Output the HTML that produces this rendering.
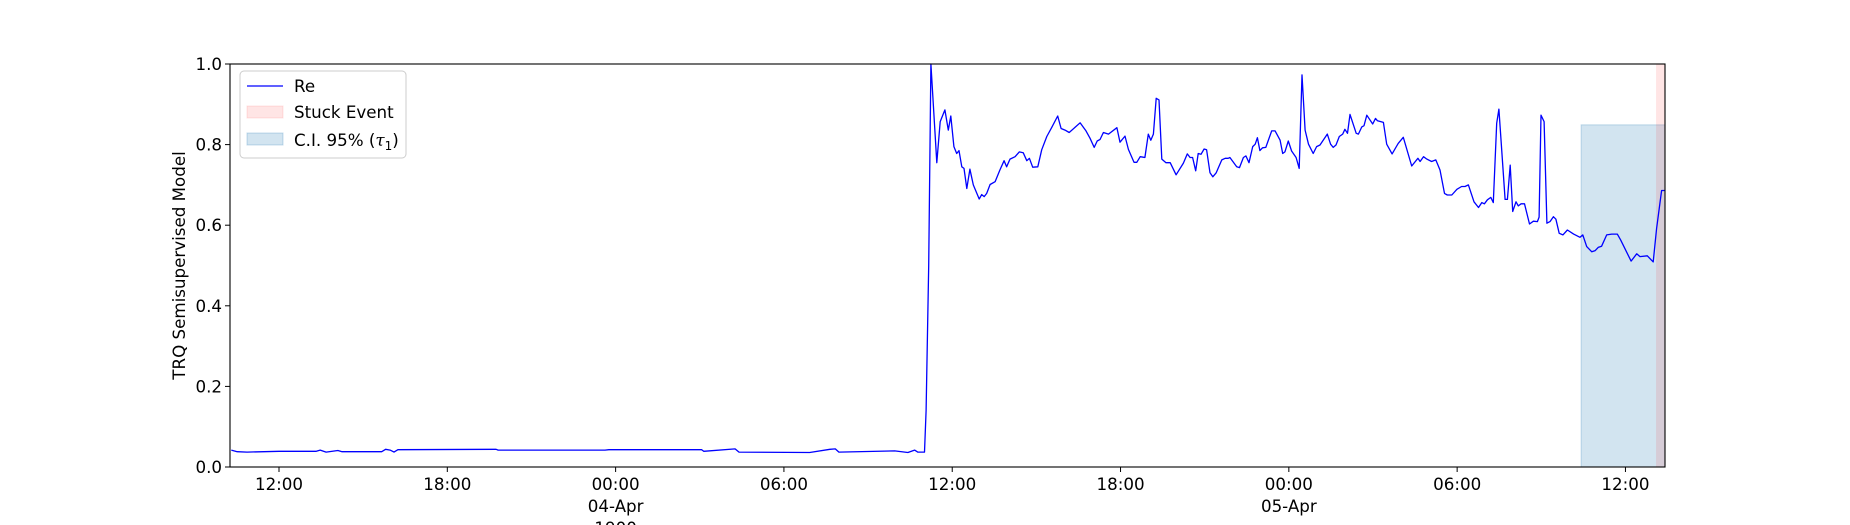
<!DOCTYPE html>
<html><head><meta charset="utf-8">
<style>
html,body{margin:0;padding:0;background:#fff;}
svg{display:block;font-family:"DejaVu Sans","Liberation Sans",sans-serif;}
</style></head>
<body>
<svg id="chart" width="1850" height="525" viewBox="0 0 1850 525" xmlns="http://www.w3.org/2000/svg"></svg>
<script>
// time in hours since 03-Apr 00:00
const times = [10.30,10.51,10.86,12.00,13.33,13.47,13.68,14.10,14.25,15.66,15.80,15.96,16.10,16.24,19.74,19.81,23.62,23.76,27.07,27.14,28.26,28.40,30.92,31.64,31.83,31.96,33.95,34.42,34.66,34.77,34.93,35.01,35.07,35.16,35.24,35.45,35.57,35.74,35.86,35.95,36.06,36.16,36.24,36.34,36.42,36.52,36.63,36.75,36.96,37.05,37.14,37.23,37.35,37.53,37.70,37.85,37.94,38.06,38.24,38.39,38.53,38.66,38.75,38.87,39.05,39.19,39.37,39.55,39.76,39.88,40.02,40.17,40.38,40.56,40.77,40.91,41.06,41.17,41.27,41.39,41.57,41.87,41.98,42.16,42.28,42.48,42.58,42.70,42.87,42.99,43.08,43.17,43.27,43.37,43.47,43.62,43.77,43.98,44.24,44.38,44.48,44.57,44.68,44.77,44.87,44.98,45.07,45.19,45.29,45.41,45.61,45.73,45.84,45.90,46.14,46.24,46.38,46.47,46.58,46.71,46.80,46.88,46.97,47.06,47.18,47.39,47.51,47.69,47.78,47.86,47.98,48.10,48.26,48.37,48.47,48.58,48.70,48.87,48.99,49.11,49.37,49.49,49.58,49.68,49.80,49.92,50.00,50.09,50.18,50.40,50.48,50.60,50.68,50.78,50.99,51.09,51.16,51.37,51.49,51.68,51.90,52.08,52.38,52.60,52.68,52.80,52.92,53.09,53.24,53.39,53.55,53.65,53.81,53.99,54.16,54.28,54.40,54.60,54.76,54.88,54.97,55.08,55.20,55.29,55.41,55.49,55.71,55.79,55.89,55.98,56.10,56.18,56.28,56.40,56.58,56.72,56.86,56.92,56.99,57.10,57.20,57.31,57.43,57.52,57.64,57.77,57.93,58.15,58.38,58.48,58.62,58.80,58.92,59.03,59.15,59.33,59.51,59.71,59.83,60.20,60.40,60.52,60.78,60.99,61.11,61.29,61.41];
const reValues = [0.042,0.038,0.037,0.039,0.039,0.042,0.037,0.041,0.038,0.038,0.044,0.042,0.037,0.043,0.044,0.042,0.042,0.043,0.043,0.039,0.045,0.037,0.036,0.044,0.045,0.037,0.040,0.036,0.042,0.037,0.037,0.037,0.14,0.5,1.0,0.755,0.857,0.886,0.836,0.871,0.795,0.778,0.785,0.745,0.741,0.691,0.739,0.700,0.665,0.676,0.671,0.679,0.701,0.708,0.737,0.760,0.745,0.764,0.770,0.782,0.780,0.760,0.766,0.744,0.745,0.787,0.820,0.843,0.871,0.840,0.836,0.830,0.843,0.854,0.834,0.816,0.793,0.809,0.813,0.830,0.826,0.842,0.806,0.821,0.788,0.756,0.756,0.770,0.768,0.826,0.811,0.826,0.915,0.911,0.764,0.755,0.755,0.725,0.754,0.777,0.768,0.768,0.735,0.778,0.776,0.789,0.787,0.730,0.720,0.730,0.762,0.766,0.766,0.768,0.745,0.743,0.768,0.772,0.755,0.795,0.801,0.817,0.785,0.792,0.793,0.834,0.834,0.811,0.778,0.782,0.809,0.784,0.768,0.741,0.973,0.836,0.801,0.778,0.795,0.799,0.826,0.801,0.793,0.799,0.820,0.826,0.838,0.828,0.875,0.828,0.826,0.844,0.847,0.873,0.851,0.865,0.859,0.855,0.801,0.777,0.803,0.818,0.747,0.766,0.758,0.770,0.764,0.758,0.762,0.737,0.679,0.675,0.675,0.689,0.696,0.696,0.700,0.658,0.644,0.656,0.653,0.663,0.669,0.656,0.853,0.888,0.664,0.664,0.749,0.634,0.658,0.648,0.653,0.653,0.603,0.610,0.609,0.620,0.873,0.857,0.605,0.609,0.621,0.615,0.580,0.576,0.588,0.578,0.570,0.576,0.547,0.534,0.537,0.545,0.548,0.576,0.578,0.578,0.563,0.511,0.529,0.522,0.524,0.509,0.592,0.686,0.686];
const ciBand = [58.42, 61.41, 0.849];   // start hour, end hour, upper value
const stuckBand = [61.09, 61.41];
const yTicks = [0,0.2,0.4,0.6,0.8,1.0];
const yTickLabels = ["0.0","0.2","0.4","0.6","0.8","1.0"];
const xTicks = [12,18,24,30,36,42,48,54,60];
const xTickLabels = ["12:00","18:00","00:00","06:00","12:00","18:00","00:00","06:00","12:00"];
const xTickSub = ["","","04-Apr","","","","05-Apr","",""];
const xDomain = [10.253, 61.41];

const L=230,R=1665,T=64,B=467;
const sx = h => L + (h - xDomain[0]) / (xDomain[1]-xDomain[0]) * (R-L);
const sy = v => B - v * (B-T);
const NS="http://www.w3.org/2000/svg";
const svg=document.getElementById('chart');
function mk(tag,attrs,parent){const e=document.createElementNS(NS,tag);for(const k in attrs)e.setAttribute(k,attrs[k]);(parent||svg).appendChild(e);return e;}

// CI band
let ci=mk('rect',{x:sx(ciBand[0]),y:sy(ciBand[2]),width:sx(ciBand[1])-sx(ciBand[0]),height:sy(0)-sy(ciBand[2]),fill:'#1f77b4','fill-opacity':0.2,stroke:'#1f77b4','stroke-opacity':0.25});


// stuck band
let st=mk('rect',{x:sx(stuckBand[0]),y:T,width:sx(stuckBand[1])-sx(stuckBand[0]),height:B-T,fill:'#ff0000','fill-opacity':0.1});



// line
let d='';
for(let i=0;i<times.length;i++){d+=(i?'L':'M')+sx(times[i]).toFixed(1)+','+sy(reValues[i]).toFixed(1);}
let ln=mk('path',{d:d,fill:'none',stroke:'#0000ff','stroke-width':1.3,'stroke-linejoin':'round'});



// axes frame
let fr=mk('rect',{x:L,y:T,width:R-L,height:B-T,fill:'none',stroke:'#000','stroke-width':1.1});



// y ticks
yTicks.forEach((v,i)=>{
  let t=mk('line',{x1:L-5,x2:L,y1:sy(v),y2:sy(v),stroke:'#000','stroke-width':1});
  
  
  let tx=mk('text',{x:L-8,y:sy(v)+6,'text-anchor':'end','font-size':16.7,fill:'#000'});
  tx.textContent=yTickLabels[i];
  
  
});
// x ticks
xTicks.forEach((h,i)=>{
  let x=sx(h);
  let t=mk('line',{x1:x,x2:x,y1:B,y2:B+5,stroke:'#000','stroke-width':1});
  
  
  let tx=mk('text',{x:x,y:B+23,'text-anchor':'middle','font-size':16.7,fill:'#000'});
  tx.textContent=xTickLabels[i];
  
  
  if(xTickSub[i]){
    let s=mk('text',{x:x,y:B+45,'text-anchor':'middle','font-size':16.7,fill:'#000'});
    s.textContent=xTickSub[i];
    
    
    if(xTickSub[i]==='04-Apr'){
      let yr=mk('text',{x:x,y:B+67,'text-anchor':'middle','font-size':16.7,fill:'#000'});
      yr.textContent='1900';
      
      
    }
  }
});
// y label
let yl=mk('text',{x:0,y:0,'text-anchor':'middle','font-size':16.7,fill:'#000',transform:'translate(185,'+((T+B)/2)+') rotate(-90)'});
yl.textContent='TRQ Semisupervised Model';



// legend
let lg=mk('g',{});


mk('rect',{x:240,y:71,width:166,height:87,rx:4,fill:'#fff','fill-opacity':0.85,stroke:'#ccc','stroke-width':1},lg);
let e1=mk('line',{x1:247,x2:283,y1:86,y2:86,stroke:'#0000ff','stroke-width':1.3},lg);


let t1=mk('text',{x:294,y:92,'font-size':16.7,fill:'#000'},lg);t1.textContent='Re';


let e2=mk('rect',{x:247,y:106,width:36,height:12,fill:'#ff0000','fill-opacity':0.1,stroke:'#ff0000','stroke-opacity':0.1},lg);


let t2=mk('text',{x:294,y:118,'font-size':16.7,fill:'#000'},lg);t2.textContent='Stuck Event';


let e3=mk('rect',{x:247,y:133,width:36,height:12,fill:'#1f77b4','fill-opacity':0.2,stroke:'#1f77b4','stroke-opacity':0.25},lg);


let t3=mk('text',{x:294,y:146,'font-size':16.7,fill:'#000'},lg);


t3.innerHTML='C.I. 95% (<tspan font-style="italic" font-family="DejaVu Serif, serif">τ</tspan><tspan font-size="12" dy="4">1</tspan><tspan dy="-4">)</tspan>';
</script>
</body></html>
